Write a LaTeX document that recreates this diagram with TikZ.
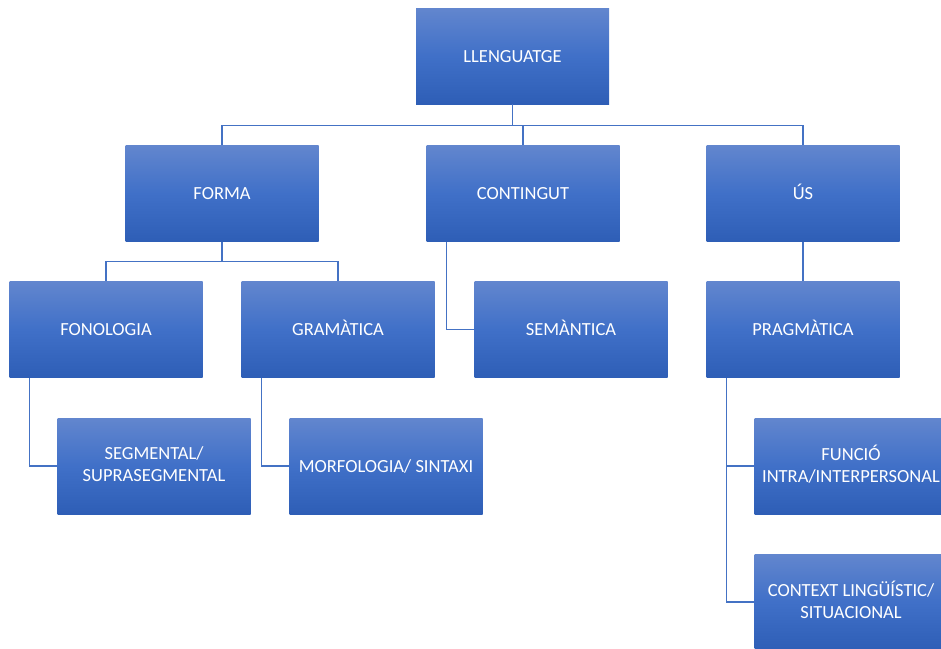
\documentclass[tikz,border=0pt]{standalone}
\usepackage{fontspec}
\setmainfont{Carlito}
\usepackage{tikz}
\usepackage{xcolor}
\usetikzlibrary{positioning,calc}

\definecolor{boxtop}{RGB}{98,134,206}
\definecolor{boxmid}{RGB}{64,112,200}
\definecolor{boxbot}{RGB}{46,94,182}
\definecolor{linkblue}{RGB}{68,114,196}
\newcommand{\boxstrut}{\rule[-4pt]{0pt}{20pt}}

\begin{document}
\begin{tikzpicture}[x=1pt, y=-1pt,
    box/.style={rectangle, minimum width=193pt, minimum height=96pt, inner sep=0pt,
      top color=boxtop, bottom color=boxbot, middle color=boxmid,
      text=white, align=center, font=\fontsize{18.5}{22}\selectfont,
      execute at begin node=\boxstrut, execute at end node=\boxstrut},
    link/.style={draw=linkblue, line width=1.2pt}]
        \useasboundingbox (0,0) rectangle (941,648);

        % Draw the boxes
        \node[box] (lleng) at (512.5,56) {LLENGUATGE};
        \node[box] (forma) at (222,193.5) {FORMA};
        \node[box] (contingut) at (523,193.5) {CONTINGUT};
        \node[box] (us) at (803,193.5) {ÚS};
        \node[box] (fonologia) at (106,329.5) {FONOLOGIA};
        \node[box] (gramatica) at (338,329.5) {GRAMÀTICA};
        \node[box] (semantica) at (571,329.5) {SEMÀNTICA};
        \node[box] (pragmatica) at (803,329.5) {PRAGMÀTICA};
        \node[box] (segmental) at (154,466) {SEGMENTAL/\\SUPRASEGMENTAL};
        \node[box] (morfologia) at (386,466) {MORFOLOGIA/ SINTAXI};
        \node[box] (funcio) at (851,466) {FUNCIÓ\\INTRA/INTERPERSONAL};
        \node[box] (context) at (851,602) {CONTEXT LINGÜÍSTIC/\\SITUACIONAL};

        % Draw connectors
        \draw[link] (lleng.south) -- ++(0,21) -| (forma.north);
        \draw[link] (lleng.south) -- ++(0,21) -| (contingut.north);
        \draw[link] (lleng.south) -- ++(0,21) -| (us.north);
        \draw[link] (forma.south) -- ++(0,20) -| (fonologia.north);
        \draw[link] (forma.south) -- ++(0,20) -| (gramatica.north);
        \draw[link] ([xshift=20pt]contingut.south west) |- (semantica.west);
        \draw[link] (us.south) -- (pragmatica.north);
        \draw[link] ([xshift=20pt]fonologia.south west) |- (segmental.west);
        \draw[link] ([xshift=20pt]gramatica.south west) |- (morfologia.west);
        \draw[link] ([xshift=20pt]pragmatica.south west) |- (funcio.west);
        \draw[link] ([xshift=20pt]pragmatica.south west) |- (context.west);
      \end{tikzpicture}
\end{document}
